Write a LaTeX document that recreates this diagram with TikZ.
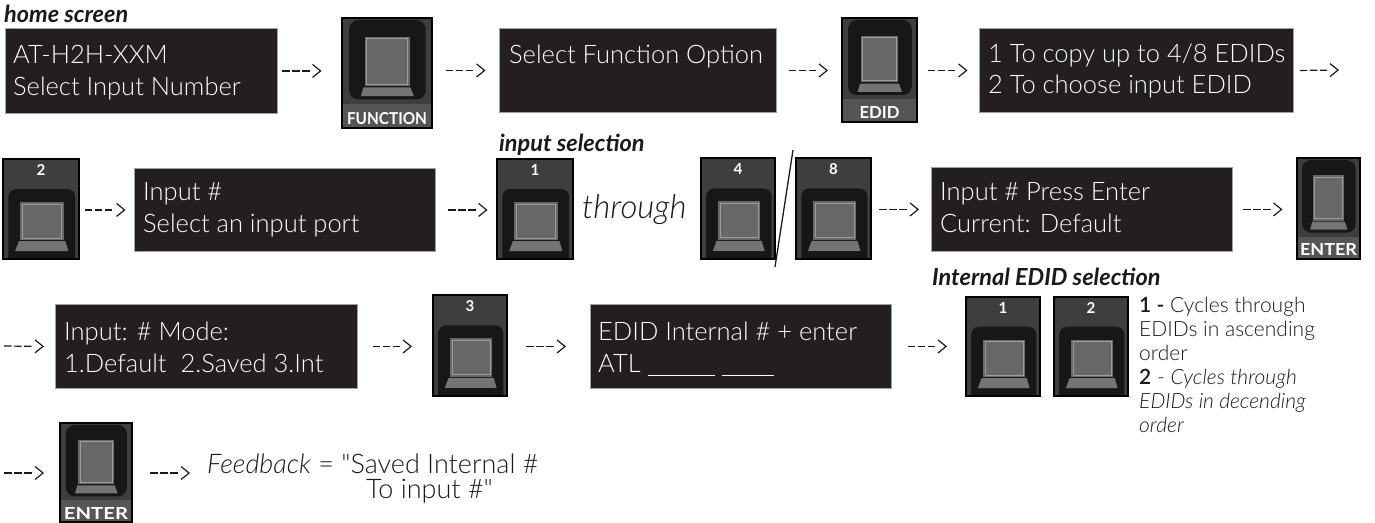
\documentclass[tikz,border=0pt]{standalone}
\usepackage{graphicx}
\usepackage{fontspec}
\setmainfont{Lato}
\newfontfamily\lightfont{Lato Light}
\usetikzlibrary{calc,arrows.meta}
\definecolor{lcdbg}{HTML}{231F20}
\definecolor{lcdedge}{HTML}{A0A0A0}
\definecolor{keyframe}{HTML}{3E3E3E}
\definecolor{keyband}{HTML}{555555}
\definecolor{keyrecess}{HTML}{171717}
\definecolor{keycap}{HTML}{686868}
\definecolor{keyhi}{HTML}{9C9C9C}
\definecolor{keyledge}{HTML}{747474}
\definecolor{inkc}{HTML}{1A1A1A}

\tikzset{
  lcdbox/.style={fill=lcdbg, draw=lcdedge, line width=0.9pt, anchor=north west, inner sep=0pt},
  lcdline/.style={text=white, anchor=base west, inner sep=0pt, font=\lightfont\fontsize{25.5}{30}\selectfont},
  tag/.style={anchor=base west, inner sep=0pt, text=inkc, font=\fontsize{23.5}{26}\selectfont\bfseries\itshape},
  note/.style={anchor=base west, inner sep=0pt, text=inkc, font=\lightfont\fontsize{21}{24}\selectfont},
  fbline/.style={anchor=base west, inner sep=0pt, text=inkc, font=\lightfont\fontsize{27}{30}\selectfont},
  thru/.style={anchor=base west, inner sep=0pt, text=inkc, font=\lightfont\fontsize{33}{38}\selectfont\itshape},
  flow/.style={draw=inkc, line width=1.2pt, dash pattern=on 7.5pt off 2.5pt on 7.5pt off 2.5pt on 7.5pt off 60pt, -{Straight Barb[length=8pt,width=13pt,line width=1.2pt]}},
  keybody/.style={fill=keyframe, anchor=north west, inner sep=0pt, outer sep=0pt, draw=none},
  keyrim/.style={draw=black, line width=1.6pt},
  keylabel/.style={text=white, inner sep=0pt, font=\bfseries},
  slashline/.style={draw=inkc, line width=1.3pt},
}

% name, x, y, w, h, label
\newcommand{\KeyTop}[6]{%
  \node[keybody, minimum width=#4pt, minimum height=#5pt] (#1) at (#2,#3) {};
  \begin{scope}
    \clip (#2,#3) rectangle ({#2+#4},{#3+#5});
    \fill[keyrecess, rounded corners=8pt] ({#2+0.07*#4},{#3+0.30*#5}) rectangle ({#2+0.95*#4},{#3+#5+10});
    \fill[keycap] ({#2+0.23*#4},{#3+0.43*#5}) rectangle ({#2+0.80*#4},{#3+0.81*#5});
    \draw[keyhi, line width=0.8pt] ({#2+0.23*#4+2},{#3+0.43*#5+2}) rectangle ({#2+0.80*#4-2},{#3+0.81*#5-2});
    \fill[keyledge] ({#2+0.21*#4},{#3+0.82*#5}) -- ({#2+0.82*#4},{#3+0.82*#5}) -- ({#2+0.86*#4},{#3+0.92*#5}) -- ({#2+0.16*#4},{#3+0.92*#5}) -- cycle;
  \end{scope}
  \node[keylabel] (#1-lab) at ({#2+0.5*#4},{#3+0.11*#5}) {\resizebox{!}{11pt}{#6}};
  \draw[keyrim] (#1.north west) rectangle (#1.south east);
}

% name, x, y, w, h, label, label width
\newcommand{\KeyBot}[7]{%
  \node[keybody, minimum width=#4pt, minimum height=#5pt] (#1) at (#2,#3) {};
  \begin{scope}
    \clip (#2,#3) rectangle ({#2+#4},{#3+#5});
    \fill[keyband] (#2,{#3+0.78*#5}) rectangle ({#2+#4},{#3+#5});
    \fill[keyrecess, rounded corners=9pt] ({#2+0.08*#4},{#3+0.02*#5}) rectangle ({#2+0.93*#4},{#3+0.74*#5});
    \fill[keycap] ({#2+0.25*#4},{#3+0.17*#5}) rectangle ({#2+0.75*#4},{#3+0.62*#5});
    \draw[keyhi, line width=0.8pt] ({#2+0.25*#4+2},{#3+0.17*#5+2}) rectangle ({#2+0.75*#4-2},{#3+0.62*#5-2});
    \fill[keyledge] ({#2+0.24*#4},{#3+0.63*#5}) -- ({#2+0.76*#4},{#3+0.63*#5}) -- ({#2+0.80*#4},{#3+0.71*#5}) -- ({#2+0.21*#4},{#3+0.71*#5}) -- cycle;
  \end{scope}
  \node[keylabel] (#1-lab) at ({#2+0.5*#4},{#3+0.91*#5}) {\resizebox{#7pt}{12pt}{#6}};
  \draw[keyrim] (#1.north west) rectangle (#1.south east);
}

\begin{document}
\begin{tikzpicture}[x=1pt,y=-1pt]
\useasboundingbox (0,0) rectangle (1375,522);

% ---------- Row 1 ----------
\node[tag] (lblhome) at (4,23) {home screen};
\node[lcdbox, minimum width=272pt, minimum height=85pt] (b1) at (5,28) {};
\node[lcdline] (b1a) at (13,63) {AT-H2H-XXM};
\node[lcdline] (b1b) at (13,95) {Select Input Number};

\KeyBot{k1}{342}{18}{90}{110}{FUNCTION}{80}

\node[lcdbox, minimum width=277pt, minimum height=84pt] (b2) at (499,28) {};
\node[lcdline] (b2a) at (509,63) {Select Function Option};

\KeyBot{k2}{842}{18}{75}{104}{EDID}{40}

\node[lcdbox, minimum width=314pt, minimum height=84pt] (b3) at (979,28) {};
\node[lcdline] (b3a) at (988,62) {1 To copy up to 4/8 EDIDs};
\node[lcdline] (b3b) at (988,93) {2 To choose input EDID};
\coordinate (e1) at (1339,70);

\draw[flow] ($(b1.east)+(4.5,0)$) -- ($(b1.east -| k1.west)+(-20.5,0)$);
\draw[flow] ($(k1.east |- b2.west)+(13.5,0)$) -- ($(b2.west)+(-13.5,0)$);
\draw[flow] ($(b2.east)+(12,0)$) -- ($(b2.east -| k2.west)+(-14,0)$);
\draw[flow] ($(k2.east |- b3.west)+(10.5,0)$) -- ($(b3.west)+(-11.5,0)$);
\draw[flow] ($(b3.east)+(6,0)$) -- (e1);

% ---------- Row 2 ----------
\KeyTop{k3}{3}{159}{76}{100}{2}
\node[lcdbox, minimum width=301pt, minimum height=83pt] (b4) at (134,168) {};
\node[lcdline] (b4a) at (143,200) {Input \#};
\node[lcdline] (b4b) at (143,232) {Select an input port};

\node[tag] (lblinput) at (499,151) {input selection};
\KeyTop{k4}{497}{159}{76}{100}{1}
\node[thru] (thr) at (582,218) {through};
\KeyTop{k5}{701}{158}{74}{101}{4}
\coordinate (sl1) at (793,150);
\coordinate (sl2) at (775,267);
\draw[slashline] (sl1) -- (sl2);
\KeyTop{k6}{796}{158}{75}{101}{8}

\node[lcdbox, minimum width=301pt, minimum height=84pt] (b5) at (931,167) {};
\node[lcdline] (b5a) at (940,200) {Input \# Press Enter};
\node[lcdline] (b5b) at (940,232) {Current: Default};
\KeyBot{k7}{1297}{158}{63}{101}{ENTER}{57}

\draw[flow] ($(k3.east |- b4.west)+(5.5,0)$) -- ($(b4.west)+(-8.5,0)$);
\draw[flow] ($(b4.east)+(12.5,0)$) -- ($(b4.east -| k4.west)+(-9.5,0)$);
\draw[flow] ($(k6.east |- b5.west)+(8,0)$) -- ($(b5.west)+(-12,0)$);
\draw[flow] ($(b5.east)+(10.5,0)$) -- ($(b5.east -| k7.west)+(-14.5,0)$);

% ---------- Row 3 ----------
\coordinate (s3) at (4,346);
\node[lcdbox, minimum width=302pt, minimum height=84pt] (b6) at (55,304) {};
\node[lcdline] (b6a) at (64,340) {Input: \# Mode:};
\node[lcdline] (b6b) at (64,372) {1.Default\ \ 2.Saved 3.Int};
\KeyTop{k8}{433}{295}{74}{101}{3}
\node[lcdbox, minimum width=301pt, minimum height=84pt] (b7) at (590,304) {};
\node[lcdline] (b7a) at (598,340) {EDID Internal \# + enter};
\node[lcdline] (b7b) at (598,372) {ATL \rule[-4pt]{67pt}{1.2pt}\hspace{7pt}\rule[-4pt]{52pt}{1.2pt}};

\node[tag] (lblint) at (932,285) {Internal EDID selection};
\KeyTop{k9}{966}{297}{74}{99}{1}
\KeyTop{k10}{1054}{297}{74}{99}{2}
\node[note] (d1) at (1139,312) {\textbf{1 -} Cycles through};
\node[note] (d2) at (1139,336) {EDIDs in ascending};
\node[note] (d3) at (1139,360) {order};
\node[note] (d4) at (1139,384) {\textbf{2} - \textit{Cycles through}};
\node[note] (d5) at (1139,408) {\textit{EDIDs in decending}};
\node[note] (d6) at (1139,432) {\textit{order}};

\draw[flow] (s3) -- ($(b6.west)+(-11,0)$);
\draw[flow] ($(b6.east)+(15,0)$) -- ($(b6.east -| k8.west)+(-21,0)$);
\draw[flow] ($(k8.east |- b7.west)+(19,0)$) -- ($(b7.west)+(-24,0)$);
\draw[flow] ($(b7.east)+(16,0)$) -- ($(b7.east -| k9.west)+(-19,0)$);

% ---------- Row 4 ----------
\coordinate (s4) at (4,473);
\KeyBot{k11}{60}{423}{72}{99}{ENTER}{64}
\node[fbline] (fb1) at (207,473) {\textit{Feedback} = \textquotedbl Saved Internal \#};
\node[fbline] (fb2) at (366,498) {To input \#\textquotedbl};

\draw[flow] (s4) -- ($(s4 -| k11.west)+(-16,0)$);
\draw[flow] ($(k11.east |- s4)+(18,0)$) -- ($(fb1.west |- s4)+(-17,0)$);
\end{tikzpicture}
\end{document}
